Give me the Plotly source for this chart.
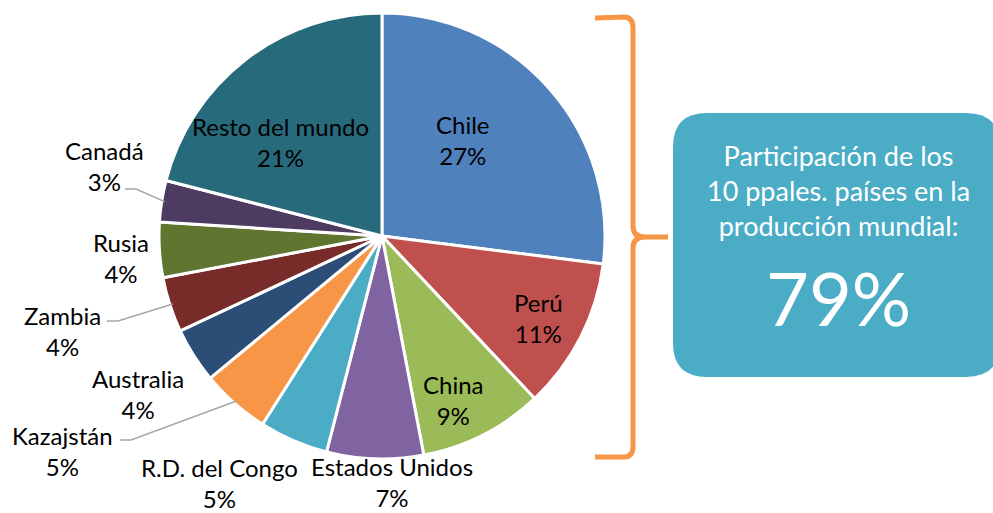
import math
import plotly.graph_objects as go

# Producción mundial de cobre por país (participación, %)
paises = ["Chile", "Perú", "China", "Estados Unidos", "R.D. del Congo", "Kazajstán",
          "Australia", "Zambia", "Rusia", "Canadá", "Resto del mundo"]
participacion = [27, 11, 9, 7, 5, 5, 4, 4, 4, 3, 21]
colores = ["#4F81BD", "#C0504D", "#9BBB59", "#8064A2", "#4BACC6", "#F79646",
           "#2C4D75", "#772C2A", "#5F7530", "#4D3B62", "#276A7C"]
top_n = 10

W, H = 993, 513
CX, CY, R = 382, 236, 222
FONT = "Lato"

# ubicación de las etiquetas (centro del texto, en píxeles)
pos_etiquetas = {
    "Chile": (463, 140), "Perú": (538, 318), "China": (453, 400),
    "Estados Unidos": (392, 482), "R.D. del Congo": (219, 483), "Kazajstán": (62, 451),
    "Australia": (138, 394), "Zambia": (62, 331), "Rusia": (121, 258),
    "Canadá": (104, 166), "Resto del mundo": (280, 142),
}
# líneas guía: punto de inicio junto a la etiqueta
guias = {"Canadá": (125, 189), "Zambia": (107, 321), "Kazajstán": (120, 440)}


def px(x):
    return x / W


def py(y):
    return 1 - y / H


# el dominio se amplía un poco: plotly deja un pequeño margen al radio
fig = go.Figure(go.Pie(
    labels=paises, values=participacion, sort=False, direction="clockwise", rotation=0,
    marker=dict(colors=colores, line=dict(color="white", width=3)),
    textinfo="none", hoverinfo="label+percent", showlegend=False,
    domain=dict(x=[px(CX - R - 1), px(CX + R + 1)], y=[py(CY + R + 1), py(CY - R - 1)]),
))

total = sum(participacion)
acum = 0
annotations = []
shapes = []
for pais, v in zip(paises, participacion):
    pct = round(v / total * 100)
    x, y = pos_etiquetas[pais]
    annotations.append(dict(
        x=px(x), y=py(y), xref="paper", yref="paper", text=f"{pais}<br>{pct}%",
        showarrow=False, xanchor="center", yanchor="middle",
        font=dict(family=FONT, size=24, color="black")))
    if pais in guias:
        theta = 2 * math.pi * (acum + v / 2) / total
        ex, ey = CX + (R - 2) * math.sin(theta), CY - (R - 2) * math.cos(theta)
        sx, sy = guias[pais]
        shapes.append(dict(type="path", xref="paper", yref="paper",
                           path=f"M {px(sx)},{py(sy)} L {px(sx + 11)},{py(sy)} L {px(ex)},{py(ey)}",
                           line=dict(color="#A6A6A6", width=1.5)))
    acum += v

# llave naranja
p = "M {},{} L {},{} Q {},{} {},{} L {},{} Q {},{} {},{} L {},{}".format(
    px(595), py(18), px(624), py(17), px(633), py(17), px(633), py(28), px(633), py(226),
    px(633), py(237), px(645), py(237), px(668), py(237))
p += " M {},{} Q {},{} {},{} L {},{} Q {},{} {},{} L {},{}".format(
    px(645), py(237), px(633), py(237), px(633), py(248), px(633), py(446),
    px(633), py(457), px(624), py(457), px(595), py(457))
shapes.append(dict(type="path", xref="paper", yref="paper", path=p,
                   line=dict(color="#F79646", width=5)))

# recuadro
x0, x1, y0, y1, r = 673, 1000, 113, 377, 34
caja = (f"M {px(x0 + r)},{py(y0)} L {px(x1 - r)},{py(y0)} Q {px(x1)},{py(y0)} {px(x1)},{py(y0 + r)} "
        f"L {px(x1)},{py(y1 - r)} Q {px(x1)},{py(y1)} {px(x1 - r)},{py(y1)} "
        f"L {px(x0 + r)},{py(y1)} Q {px(x0)},{py(y1)} {px(x0)},{py(y1 - r)} "
        f"L {px(x0)},{py(y0 + r)} Q {px(x0)},{py(y0)} {px(x0 + r)},{py(y0)} Z")
shapes.append(dict(type="path", xref="paper", yref="paper", path=caja,
                   fillcolor="#4BACC6", line=dict(width=0), layer="below"))

suma_top = sum(participacion[:top_n])
annotations.append(dict(
    x=px(838), y=py(191), xref="paper", yref="paper",
    text="Participación de los<br>10 ppales. países en la<br>producción mundial:",
    showarrow=False, xanchor="center", yanchor="middle",
    font=dict(family=FONT, size=27, color="white")))
annotations.append(dict(
    x=px(838), y=py(297), xref="paper", yref="paper", text=f"{suma_top}%",
    showarrow=False, xanchor="center", yanchor="middle",
    font=dict(family=FONT, size=74, color="white")))

fig.update_layout(width=W, height=H, margin=dict(l=0, r=0, t=0, b=0),
                  paper_bgcolor="white", plot_bgcolor="white",
                  annotations=annotations, shapes=shapes)
fig.write_html("out.html", config={"displayModeBar": False},
               post_script="document.body.style.margin='0';document.body.style.overflow='hidden';")
